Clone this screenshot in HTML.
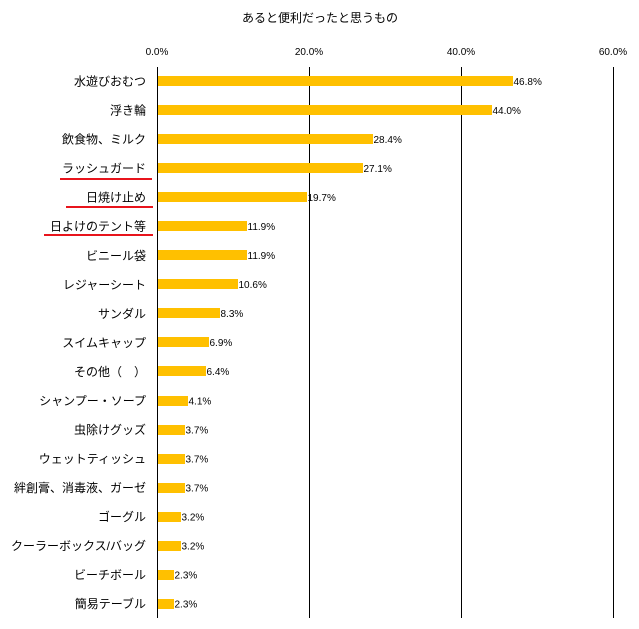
<!DOCTYPE html><html><head><meta charset="utf-8"><style>body{margin:0;background:#fff}svg{display:block}text{font-family:"Liberation Sans","Noto Sans CJK JP",sans-serif}</style></head><body>
<svg width="639" height="629" xmlns="http://www.w3.org/2000/svg">
<text x="320" y="22" font-size="12" text-anchor="middle">あると便利だったと思うもの</text>
<g font-size="10" text-anchor="middle" fill="#000">
<text x="157" y="55">0.0%</text><text x="309" y="55">20.0%</text><text x="461" y="55">40.0%</text><text x="613" y="55">60.0%</text></g>
<g stroke="#000" stroke-width="1">
<line x1="157.5" y1="67" x2="157.5" y2="618"/><line x1="309.5" y1="67" x2="309.5" y2="618"/><line x1="461.5" y1="67" x2="461.5" y2="618"/><line x1="613.5" y1="67" x2="613.5" y2="618"/></g>
<g fill="#ffc000">
<rect x="158" y="76" width="355" height="10"/>
<rect x="158" y="105" width="334" height="10"/>
<rect x="158" y="134" width="215" height="10"/>
<rect x="158" y="163" width="205" height="10"/>
<rect x="158" y="192" width="149" height="10"/>
<rect x="158" y="221" width="89" height="10"/>
<rect x="158" y="250" width="89" height="10"/>
<rect x="158" y="279" width="80" height="10"/>
<rect x="158" y="308" width="62" height="10"/>
<rect x="158" y="337" width="51" height="10"/>
<rect x="158" y="366" width="48" height="10"/>
<rect x="158" y="396" width="30" height="10"/>
<rect x="158" y="425" width="27" height="10"/>
<rect x="158" y="454" width="27" height="10"/>
<rect x="158" y="483" width="27" height="10"/>
<rect x="158" y="512" width="23" height="10"/>
<rect x="158" y="541" width="23" height="10"/>
<rect x="158" y="570" width="16" height="10"/>
<rect x="158" y="599" width="16" height="10"/>
</g>
<g font-size="12" text-anchor="end">
<text x="146" y="85.5">水遊びおむつ</text>
<text x="146" y="114.5">浮き輪</text>
<text x="146" y="143.6">飲食物、ミルク</text>
<text x="146" y="172.6">ラッシュガード</text>
<text x="146" y="201.7">日焼け止め</text>
<text x="146" y="230.7">日よけのテント等</text>
<text x="146" y="259.8">ビニール袋</text>
<text x="146" y="288.8">レジャーシート</text>
<text x="146" y="317.9">サンダル</text>
<text x="146" y="346.9">スイムキャップ</text>
<text x="146" y="376">その他（　）</text>
<text x="146" y="405">シャンプー・ソープ</text>
<text x="146" y="434">虫除けグッズ</text>
<text x="146" y="463">ウェットティッシュ</text>
<text x="146" y="492">絆創膏、消毒液、ガーゼ</text>
<text x="146" y="521">ゴーグル</text>
<text x="146" y="550">クーラーボックス/バッグ</text>
<text x="146" y="579">ビーチボール</text>
<text x="146" y="608">簡易テーブル</text>
</g>
<g font-size="10">
<text x="513.5" y="85">46.8%</text>
<text x="492.5" y="114">44.0%</text>
<text x="373.5" y="143">28.4%</text>
<text x="363.5" y="172">27.1%</text>
<text x="307.5" y="201">19.7%</text>
<text x="247.5" y="230">11.9%</text>
<text x="247.5" y="259">11.9%</text>
<text x="238.5" y="288">10.6%</text>
<text x="220.5" y="317">8.3%</text>
<text x="209.5" y="346">6.9%</text>
<text x="206.5" y="375">6.4%</text>
<text x="188.5" y="404.5">4.1%</text>
<text x="185.5" y="433.5">3.7%</text>
<text x="185.5" y="462.5">3.7%</text>
<text x="185.5" y="491.5">3.7%</text>
<text x="181.5" y="520.5">3.2%</text>
<text x="181.5" y="549.5">3.2%</text>
<text x="174.5" y="578.5">2.3%</text>
<text x="174.5" y="607.5">2.3%</text>
</g>
<g stroke="#e8141c" stroke-width="2">
<line x1="60" y1="179" x2="152" y2="179"/><line x1="66" y1="207" x2="153" y2="207"/><line x1="44" y1="235" x2="153" y2="235"/></g>
</svg></body></html>
